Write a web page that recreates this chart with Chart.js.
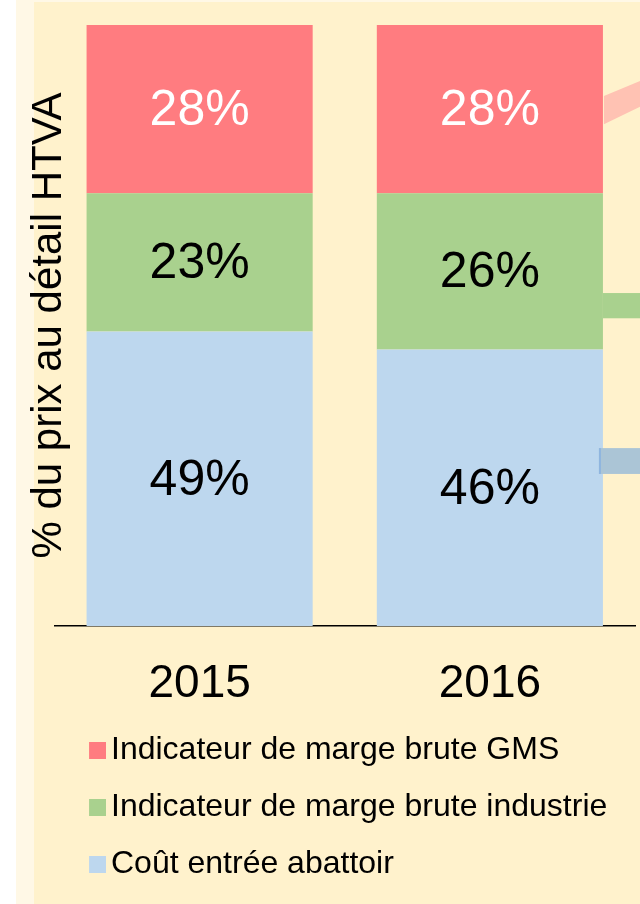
<!DOCTYPE html>
<html>
<head>
<meta charset="utf-8">
<script src="https://cdn.jsdelivr.net/npm/chart.js@4"></script>
<style>
  html, body { margin: 0; padding: 0; background: #ffffff; }
  canvas { display: block; }
</style>
</head>
<body>
<canvas id="c" width="640" height="904"></canvas>
<script>
// ---- data ----
const categories = ['2015', '2016'];
const seriesNames = ['Coût entrée abattoir', 'Indicateur de marge brute industrie', 'Indicateur de marge brute GMS'];
const coutAbattoir = [49, 46];
const margeIndustrie = [23, 26];
const margeGMS = [28, 28];
const seriesColors = ['#BDD7EE', '#A9D18E', '#FF7C80'];
const labelColors = ['#000000', '#000000', '#FFFFFF'];
const yTitle = '% du prix au détail HTVA';

const FONT = '"Liberation Sans", Arial, Helvetica, sans-serif';

// legend swatches (box left of the text)
function makeSwatch(color) {
  const c = document.createElement('canvas');
  c.width = 22; c.height = 17;
  const g = c.getContext('2d');
  g.fillStyle = color;
  g.fillRect(5, 0, 17, 17);
  return c;
}
const swatches = seriesColors.map(makeSwatch);

const backgroundPlugin = {
  id: 'bg',
  beforeDraw(chart) {
    const ctx = chart.ctx;
    ctx.save();
    ctx.fillStyle = '#FFF8E6';
    ctx.fillRect(16, 0, chart.width - 16, chart.height);
    ctx.fillStyle = '#FFF2CC';
    ctx.fillRect(34, 2, chart.width - 34, chart.height - 2);
    ctx.restore();
  }
};

const legendShift = {
  id: 'legendShift',
  afterLayout(chart) {
    if (chart.legend) chart.legend.left = 70;
  }
};

const valueLabels = {
  id: 'valueLabels',
  afterDatasetsDraw(chart) {
    const ctx = chart.ctx;
    ctx.save();
    ctx.font = '50px ' + FONT;
    ctx.textAlign = 'center';
    ctx.textBaseline = 'middle';
    chart.data.datasets.forEach((ds, di) => {
      const meta = chart.getDatasetMeta(di);
      meta.data.forEach((el, i) => {
        ctx.fillStyle = labelColors[di];
        ctx.fillText(ds.data[i] + '%', el.x, (el.y + el.base) / 2 + 2);
      });
    });
    ctx.restore();
  }
};

// decorative pointer bands leaving the 2016 bar towards the right edge
const pointers = {
  id: 'pointers',
  afterDatasetsDraw(chart) {
    const ctx = chart.ctx;
    const y = chart.scales.y;
    const el = chart.getDatasetMeta(2).data[1];
    const x0 = el.x + el.width / 2;
    const W = chart.width;
    ctx.save();
    // pink diagonal
    ctx.fillStyle = '#FFC2B3';
    ctx.beginPath();
    ctx.moveTo(x0 + 1, y.getPixelForValue(88.2));
    ctx.lineTo(W, y.getPixelForValue(90.7));
    ctx.lineTo(W, y.getPixelForValue(86.4));
    ctx.lineTo(x0 + 1, y.getPixelForValue(83.5));
    ctx.closePath();
    ctx.fill();
    // green band
    ctx.fillStyle = '#A9D18E';
    ctx.fillRect(x0, y.getPixelForValue(55.4), W - x0, y.getPixelForValue(51.2) - y.getPixelForValue(55.4));
    // blue band
    ctx.fillStyle = '#ABC5D6';
    ctx.fillRect(x0 - 4, y.getPixelForValue(29.6), W - x0 + 4, y.getPixelForValue(25.3) - y.getPixelForValue(29.6));
    ctx.fillStyle = '#8FB5DF';
    ctx.fillRect(x0 - 4, y.getPixelForValue(29.6), 2, y.getPixelForValue(25.3) - y.getPixelForValue(29.6));
    ctx.restore();
  }
};

const series = [coutAbattoir, margeIndustrie, margeGMS];

new Chart(document.getElementById('c'), {
  type: 'bar',
  data: {
    labels: categories,
    datasets: series.map((d, i) => ({
      label: seriesNames[i],
      data: d,
      backgroundColor: seriesColors[i],
      borderWidth: 0,
      categoryPercentage: 1,
      barPercentage: 0.779
    }))
  },
  options: {
    responsive: false,
    animation: false,
    devicePixelRatio: 1,
    layout: { padding: { top: 25, right: 5, bottom: 14, left: 0 } },
    scales: {
      x: {
        stacked: true,
        grid: { display: false, drawTicks: false },
        border: { display: true, color: '#000000', width: 1.5 },
        ticks: { color: '#000000', padding: 35, font: { family: FONT, size: 46, lineHeight: 1 } },
        afterFit(scale) { scale.height = 83; }
      },
      y: {
        stacked: true,
        min: 0,
        max: 100,
        grid: { display: false, drawTicks: false },
        border: { display: false },
        ticks: { display: false },
        title: {
          display: true,
          text: yTitle,
          color: '#000000',
          font: { family: FONT, size: 42, lineHeight: 1 },
          padding: { top: 28, bottom: -15.5 }
        }
      }
    },
    plugins: {
      tooltip: { enabled: false },
      legend: {
        position: 'bottom',
        align: 'start',
        reverse: true,
        labels: {
          usePointStyle: true,
          pointStyleWidth: 0.01,
          padding: 25,
          color: '#000000',
          font: { family: FONT, size: 32 },
          generateLabels(chart) {
            const items = Chart.defaults.plugins.legend.labels.generateLabels(chart);
            items.forEach(it => { it.pointStyle = swatches[it.datasetIndex]; });
            return items;
          }
        }
      }
    }
  },
  plugins: [backgroundPlugin, legendShift, valueLabels, pointers]
});
</script>
</body>
</html>
